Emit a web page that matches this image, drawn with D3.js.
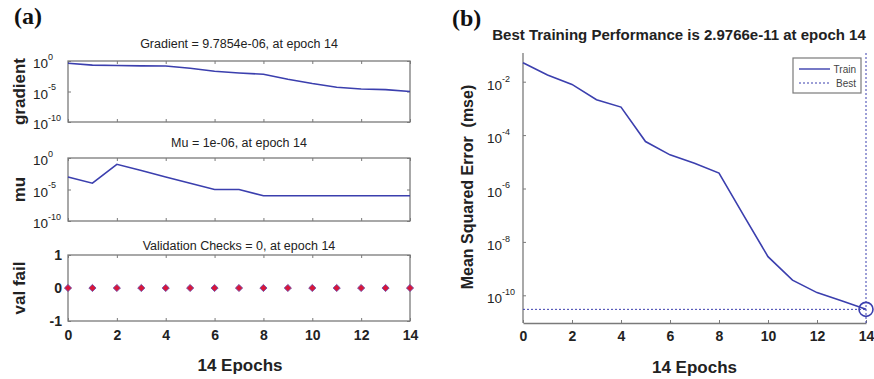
<!DOCTYPE html>
<html>
<head>
<meta charset="utf-8">
<script src="https://cdn.jsdelivr.net/npm/d3@7"></script>
<style>
  html, body { margin: 0; padding: 0; background: #ffffff; }
  svg { display: block; font-family: "Liberation Sans", Arial, sans-serif; }
  text { white-space: pre; }
</style>
</head>
<body>
<svg id="chart" width="874" height="379"></svg>
<script>
// Data
const epochs = [0, 1, 2, 3, 4, 5, 6, 7, 8, 9, 10, 11, 12, 13, 14];
const gradientVals = [0.42, 0.21, 0.18, 0.16, 0.15, 0.063, 0.021, 0.011, 0.0068, 1e-3, 2e-4, 5e-5, 2.5e-5, 2e-5, 9.7854e-6];
const muVals = [1e-3, 1e-4, 1e-1, 1e-2, 1e-3, 1e-4, 1e-5, 1e-5, 1e-6, 1e-6, 1e-6, 1e-6, 1e-6, 1e-6, 1e-6];
const valFailVals = [0, 0, 0, 0, 0, 0, 0, 0, 0, 0, 0, 0, 0, 0, 0];
const mseVals = [0.051, 0.0178, 0.0079, 0.0021, 0.00112, 5.75e-5, 1.82e-5, 8.9e-6, 3.8e-6, 1e-7, 2.8e-9, 3.7e-10, 1.26e-10, 6.3e-11, 2.9766e-11];
const bestEpoch = 14;
const bestPerf = 2.9766e-11;

const epochTicks = [0, 2, 4, 6, 8, 10, 12, 14];
const logTicksA = [1e0, 1e-5, 1e-10];
const logTicksB = [1e-2, 1e-4, 1e-6, 1e-8, 1e-10];
const valTicks = [-1, 0, 1];

const LINE = "#3b3fae";
const BOX = "#7a7a7a";
const INK = "#222222";

const svg = d3.select("#chart");

// exponent label like 10^-5
function expLabel(sel, v, size, supSize) {
    const e = Math.round(Math.log10(v));
    sel.text(null);
    sel.append("tspan").attr("font-size", size).text("10");
    sel.append("tspan").attr("font-size", supSize).attr("dy", -size * 0.45).text(e);
}

// ---------- Panel (a) ----------
const xA = d3.scaleLinear().domain([0, 14]).range([68, 410]);

const panels = [
    { key: "gradient", label: "gradient", title: "Gradient = 9.7854e-06, at epoch 14", vals: gradientVals,
      y: d3.scaleLog().domain([1e-10, 1]).range([122, 61]), ticks: logTicksA, titleY: 48 },
    { key: "mu", label: "mu", title: "Mu = 1e-06, at epoch 14", vals: muVals,
      y: d3.scaleLog().domain([1e-10, 1]).range([221, 158]), ticks: logTicksA, titleY: 147 },
    { key: "val", label: "val fail", title: "Validation Checks = 0, at epoch 14", vals: valFailVals,
      y: d3.scaleLinear().domain([-1, 1]).range([321, 255]), ticks: valTicks, titleY: 250 }
];

svg.append("text")
    .attr("x", 14).attr("y", 24)
    .attr("font-family", "Liberation Serif, serif")
    .attr("font-weight", "bold")
    .attr("font-size", 24)
    .attr("fill", "#111")
    .text("(a)");

panels.forEach(p => {
    const [yb, yt] = p.y.range();
    const g = svg.append("g");

    g.append("rect")
        .attr("x", xA(0)).attr("y", yt)
        .attr("width", xA(14) - xA(0)).attr("height", yb - yt)
        .attr("fill", "none").attr("stroke", BOX).attr("stroke-width", 1.3);

    // tick marks inside the box on all four sides
    const tickX = [d3.axisBottom(xA), d3.axisTop(xA)];
    tickX.forEach((ax, i) => {
        const a = g.append("g")
            .attr("transform", `translate(0,${i === 0 ? yb : yt})`)
            .call(ax.tickValues(epochTicks).tickSize(-3).tickSizeOuter(0).tickPadding(9)
                .tickFormat(i === 0 && p.key === "val" ? d3.format("d") : ""));
        a.select(".domain").remove();
        a.selectAll(".tick line").attr("stroke", BOX);
        a.selectAll(".tick text")
            .attr("font-size", 14).attr("font-weight", "bold")
            .attr("fill", INK).attr("font-family", "Liberation Sans, Arial, sans-serif");
    });
    [d3.axisLeft(p.y), d3.axisRight(p.y)].forEach((ax, i) => {
        const a = g.append("g")
            .attr("transform", `translate(${i === 0 ? xA(0) : xA(14)},0)`)
            .call(ax.tickValues(p.ticks).tickSize(-3).tickSizeOuter(0).tickFormat(""));
        a.select(".domain").remove();
        a.selectAll(".tick line").attr("stroke", BOX);
    });

    // y tick labels
    const lab = g.selectAll("text.ylab")
        .data(p.ticks)
        .join("text")
        .attr("class", "ylab")
        .attr("fill", INK)
        .attr("dominant-baseline", "central");
    if (p.key === "val") {
        lab.attr("x", 62).attr("y", d => p.y(d))
            .attr("text-anchor", "end")
            .attr("font-size", 14).attr("font-weight", "bold")
            .text(d => d);
    } else {
        lab.attr("x", 33).attr("y", d => p.y(d) + 2)
            .attr("text-anchor", "start")
            .each(function(d) { expLabel(d3.select(this), d, 13.5, 9); });
    }

    // title
    g.append("text")
        .attr("x", (xA(0) + xA(14)) / 2 + 0).attr("y", p.titleY)
        .attr("text-anchor", "middle")
        .attr("font-size", 12.5)
        .attr("fill", INK)
        .text(p.title);

    // rotated y label
    g.append("text")
        .attr("transform", `translate(25,${(yt + yb) / 2}) rotate(-90)`)
        .attr("text-anchor", "middle")
        .attr("font-size", 17).attr("font-weight", "bold")
        .attr("fill", INK)
        .text(p.label);

    if (p.key === "val") {
        g.selectAll("path.pt")
            .data(epochs)
            .join("path")
            .attr("class", "pt")
            .attr("transform", (d, i) => `translate(${xA(d)},${p.y(p.vals[i])}) rotate(45)`)
            .attr("d", d3.symbol(d3.symbolSquare, 26))
            .attr("fill", "#d8163a")
            .attr("stroke", "#6a4aa8")
            .attr("stroke-width", 0.8);
    } else {
        const line = d3.line()
            .x((d, i) => xA(epochs[i]))
            .y(d => p.y(d));
        g.append("path")
            .datum(p.vals)
            .attr("d", line)
            .attr("fill", "none")
            .attr("stroke", LINE)
            .attr("stroke-width", 1.6);
    }
});

svg.append("text")
    .attr("x", (xA(0) + xA(14)) / 2 + 1).attr("y", 371)
    .attr("text-anchor", "middle")
    .attr("font-size", 17).attr("font-weight", "bold")
    .attr("fill", INK)
    .text("14 Epochs");

// ---------- Panel (b) ----------
const xB = d3.scaleLinear().domain([0, 14]).range([523, 866]);
const yB = d3.scaleLog().domain([1e-11, 1e-1]).range([322, 55]);
const gB = svg.append("g");

svg.append("text")
    .attr("x", 452).attr("y", 26)
    .attr("font-family", "Liberation Serif, serif")
    .attr("font-weight", "bold")
    .attr("font-size", 24)
    .attr("fill", "#111")
    .text("(b)");

svg.append("text")
    .attr("x", 679).attr("y", 40)
    .attr("text-anchor", "middle")
    .attr("font-size", 15).attr("font-weight", "bold")
    .attr("fill", INK)
    .text("Best Training Performance is 2.9766e-11 at epoch 14");

const axB = gB.append("g")
    .attr("transform", `translate(0,${yB.range()[0] + 1})`)
    .call(d3.axisBottom(xB).tickValues(epochTicks).tickSize(-3).tickSizeOuter(0).tickPadding(8));
axB.select(".domain").attr("stroke", BOX).attr("stroke-width", 1.3);
axB.selectAll(".tick line").attr("stroke", BOX);
axB.selectAll(".tick text")
    .attr("font-size", 14).attr("font-weight", "bold").attr("fill", INK)
    .attr("font-family", "Liberation Sans, Arial, sans-serif");

const ayB = gB.append("g")
    .attr("transform", `translate(${xB(0)},0)`)
    .call(d3.axisLeft(yB).tickValues(logTicksB).tickSize(-3).tickSizeOuter(0).tickFormat(""));
ayB.select(".domain").attr("stroke", BOX).attr("stroke-width", 1.3)
    .attr("d", `M0,${yB.range()[1] - 2}V${yB.range()[0] + 1}`);
ayB.selectAll(".tick line").attr("stroke", BOX);

gB.selectAll("text.ylabB")
    .data(logTicksB)
    .join("text")
    .attr("class", "ylabB")
    .attr("x", 487).attr("y", d => yB(d) + 3)
    .attr("fill", INK)
    .attr("dominant-baseline", "central")
    .each(function(d) { expLabel(d3.select(this), d, 13.5, 9); });

// best lines
gB.append("line")
    .attr("x1", xB(0)).attr("x2", xB(bestEpoch))
    .attr("y1", yB(bestPerf)).attr("y2", yB(bestPerf))
    .attr("stroke", LINE).attr("stroke-width", 1).attr("stroke-dasharray", "2,2");
gB.append("line")
    .attr("x1", xB(bestEpoch)).attr("x2", xB(bestEpoch))
    .attr("y1", yB.range()[1] - 2).attr("y2", yB.range()[0] + 1)
    .attr("stroke", LINE).attr("stroke-width", 1).attr("stroke-dasharray", "2,2");

gB.append("path")
    .datum(mseVals)
    .attr("d", d3.line().x((d, i) => xB(epochs[i])).y(d => yB(d)))
    .attr("fill", "none")
    .attr("stroke", LINE)
    .attr("stroke-width", 1.6);

gB.append("circle")
    .attr("cx", xB(bestEpoch)).attr("cy", yB(bestPerf))
    .attr("r", 7)
    .attr("fill", "none").attr("stroke", LINE).attr("stroke-width", 1.6);

// legend
const leg = gB.append("g").attr("transform", "translate(793,58)");
leg.append("rect")
    .attr("width", 68).attr("height", 35)
    .attr("fill", "#fff").attr("stroke", BOX).attr("stroke-width", 1.2);
leg.append("line").attr("x1", 6).attr("x2", 37).attr("y1", 11).attr("y2", 11)
    .attr("stroke", LINE).attr("stroke-width", 1.4);
leg.append("line").attr("x1", 6).attr("x2", 37).attr("y1", 25).attr("y2", 25)
    .attr("stroke", LINE).attr("stroke-width", 1).attr("stroke-dasharray", "2,2");
leg.append("text").attr("x", 63).attr("y", 11).attr("text-anchor", "end")
    .attr("dominant-baseline", "central").attr("font-size", 10).attr("fill", "#444").text("Train");
leg.append("text").attr("x", 63).attr("y", 25).attr("text-anchor", "end")
    .attr("dominant-baseline", "central").attr("font-size", 10).attr("fill", "#444").text("Best");

// axis labels
svg.append("text")
    .attr("x", (xB(0) + xB(14)) / 2).attr("y", 373)
    .attr("text-anchor", "middle")
    .attr("font-size", 17).attr("font-weight", "bold")
    .attr("fill", INK)
    .text("14 Epochs");

svg.append("text")
    .attr("transform", "translate(473,187) rotate(-90)")
    .attr("text-anchor", "middle")
    .attr("font-size", 16).attr("font-weight", "bold")
    .attr("fill", INK)
    .text("Mean Squared Error  (mse)");
</script>
</body>
</html>
